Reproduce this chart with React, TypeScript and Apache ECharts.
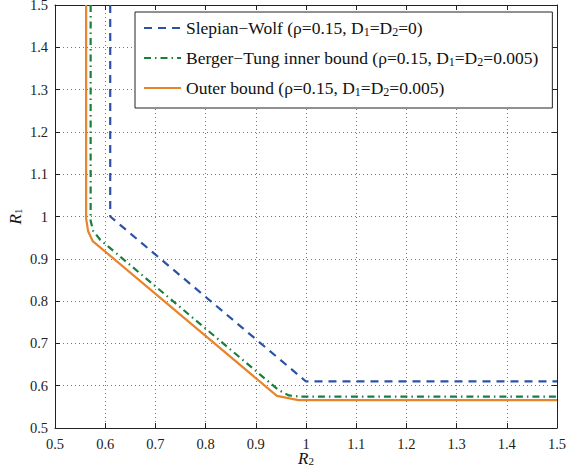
import React, { useEffect, useRef } from "react";
import * as echarts from "echarts";

// Slepian-Wolf region (rho=0.15, D1=D2=0)
const swR2 = [0.61, 0.61, 1.0, 1.5];
const swR1 = [1.5, 1.0, 0.61, 0.61];
// Berger-Tung inner bound (rho=0.15, D1=D2=0.005)
const btR2 = [0.571, 0.571, 0.576, 0.59, 0.945, 0.966, 0.99, 1.5];
const btR1 = [1.5, 0.99, 0.966, 0.945, 0.59, 0.577, 0.574, 0.574];
// Outer bound (rho=0.15, D1=D2=0.005)
const obR2 = [0.562, 0.562, 0.566, 0.575, 0.942, 0.985, 1.5];
const obR1 = [1.5, 0.995, 0.965, 0.942, 0.576, 0.566, 0.566];

const seriesNames = ["Slepian-Wolf", "Berger-Tung", "Outer"];
const legendLabels = [
  "{n|Slepian\u2212Wolf (\u03c1=0.15, D}{s|1}{n|=D}{s|2}{n|=0)}",
  "{n|Berger\u2212Tung inner bound (\u03c1=0.15, D}{s|1}{n|=D}{s|2}{n|=0.005)}",
  "{n|Outer bound (\u03c1=0.15, D}{s|1}{n|=D}{s|2}{n|=0.005)}",
];

const axisMin = 0.5;
const axisMax = 1.5;
const axisStep = 0.1;

const FONT = "Liberation Serif";

const zip = (xs: number[], ys: number[]) => xs.map((x, i) => [x, ys[i]]);

export default function App() {
  const ref = useRef<HTMLDivElement>(null);
  useEffect(() => {
    if (!ref.current) return;
    const chart = echarts.init(ref.current, undefined, { renderer: "svg" });
    const subRich = {
      n: { fontFamily: FONT, fontStyle: "normal", fontSize: 17.5, color: "#111", lineHeight: 20, verticalAlign: "middle" },
      s: { fontFamily: FONT, fontStyle: "normal", fontSize: 12, color: "#111", lineHeight: 11, verticalAlign: "bottom" },
    };
    const nameRich = {
      i: { fontFamily: FONT, fontSize: 17, fontStyle: "italic", color: "#111", lineHeight: 16, verticalAlign: "middle" },
      s: { fontFamily: FONT, fontStyle: "normal", fontSize: 11, color: "#111", lineHeight: 9, verticalAlign: "bottom" },
    };
    const labelStyle = { color: "#222", fontFamily: FONT, fontStyle: "normal", fontSize: 14.5 };
    const baseAxis = {
      type: "value" as const,
      min: axisMin,
      max: axisMax,
      interval: axisStep,
      axisLine: { show: true, lineStyle: { color: "#222", width: 1 } },
      axisTick: { show: true, inside: true, length: 5, lineStyle: { color: "#222" } },
    };
    chart.setOption({
      animation: false,
      backgroundColor: "#fff",
      grid: { left: 55, right: 10, top: 5, bottom: 44, containLabel: false, outerBoundsMode: "none" },
      xAxis: [
        {
          ...baseAxis,
          position: "bottom",
          name: "{i|R}{s|2}",
          nameLocation: "middle",
          nameGap: 22,
          nameMoveOverlap: false,
          nameTextStyle: { rich: nameRich },
          axisLabel: { ...labelStyle, margin: 8 },
          splitLine: { show: true, lineStyle: { color: "#777", type: [1, 3], width: 1 } },
        },
        {
          ...baseAxis,
          position: "top",
          axisLabel: { show: false },
          splitLine: { show: false },
        },
      ],
      yAxis: [
        {
          ...baseAxis,
          position: "left",
          name: "{i|R}{s|1}",
          nameLocation: "middle",
          nameGap: 32,
          nameMoveOverlap: false,
          nameRotate: 90,
          nameTextStyle: { rich: nameRich },
          axisLabel: { ...labelStyle, margin: 7 },
          splitLine: { show: true, lineStyle: { color: "#777", type: [1, 3], width: 1 } },
        },
        {
          ...baseAxis,
          position: "right",
          axisLabel: { show: false },
          splitLine: { show: false },
        },
      ],
      legend: {
        orient: "vertical",
        left: 135,
        top: 12,
        backgroundColor: "#fff",
        borderColor: "#222",
        borderWidth: 1,
        borderRadius: 0,
        padding: [7, 14, 10, 8],
        itemGap: 11,
        itemWidth: 37,
        itemHeight: 14,
        itemStyle: { opacity: 0 },
        data: seriesNames,
        formatter: (name: string) => legendLabels[seriesNames.indexOf(name)],
        textStyle: { fontFamily: FONT, fontStyle: "normal", fontSize: 17.5, color: "#111", rich: subRich },
      },
      series: [
        {
          name: seriesNames[0],
          type: "line",
          symbol: "none",
          data: zip(swR2, swR1),
          lineStyle: { color: "#2C52A8", width: 2.2, type: [8, 6] },
          itemStyle: { color: "#2C52A8" },
          z: 3,
        },
        {
          name: seriesNames[1],
          type: "line",
          symbol: "none",
          data: zip(btR2, btR1),
          lineStyle: { color: "#17803D", width: 2.2, type: [7, 4, 1.5, 4] },
          itemStyle: { color: "#17803D" },
          z: 4,
        },
        {
          name: seriesNames[2],
          type: "line",
          symbol: "none",
          data: zip(obR2, obR1),
          lineStyle: { color: "#E8842C", width: 2.2, type: "solid" },
          itemStyle: { color: "#E8842C" },
          z: 5,
        },
      ],
    });
    return () => chart.dispose();
  }, []);
  return (
    <div
      ref={ref}
      style={{ position: "absolute", left: 0, top: 0, width: 567, height: 472 }}
    />
  );
}
